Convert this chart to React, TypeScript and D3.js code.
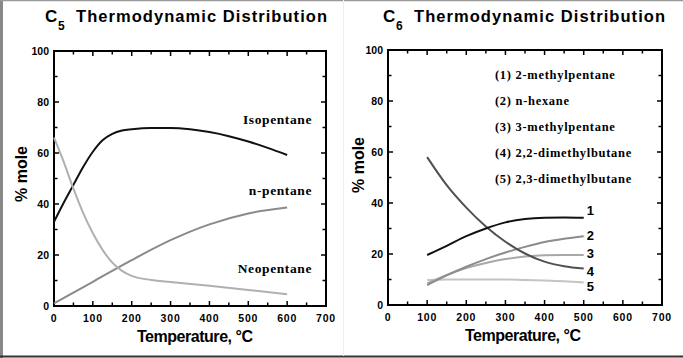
import React from "react";
import * as d3 from "d3";

// ---------- C5 data ----------
const c5Temps = [0, 25, 50, 75, 100, 125, 150, 175, 200, 250, 300, 350, 400, 450, 500, 550, 600];
const isopentane = [33, 40.5, 47.5, 54.5, 60.5, 65, 67.5, 68.8, 69.3, 69.8, 69.8, 69.3, 68.2, 66.6, 64.5, 62, 59.2];
const nPentaneTemps = [0, 100, 200, 300, 400, 500, 600];
const nPentane = [1, 9.5, 18, 25.8, 32, 36.3, 38.6];
const neopentaneTemps = [0, 25, 50, 75, 100, 125, 150, 175, 200, 250, 300, 400, 500, 600];
const neopentane = [66, 56.5, 46, 36.5, 28.5, 22, 17, 13.8, 11.8, 10.2, 9.4, 7.9, 6.3, 4.6];
const c5Labels = ["Isopentane", "n-pentane", "Neopentane"];
const c5LabelValues = [73.3, 45.2, 14.9];

// ---------- C6 data ----------
const c6Temps = [100, 150, 200, 250, 300, 350, 400, 450, 500];
const methylpentane2 = [19.6, 23.2, 27, 30, 32.4, 33.7, 34.2, 34.3, 34.2];
const nHexane = [7.8, 11.6, 15, 18, 20.6, 22.8, 24.7, 26, 27];
const methylpentane3 = [8.5, 11.8, 14.5, 16.5, 18, 19, 19.5, 19.6, 19.6];
const dimethylbutane22 = [58, 47, 38.2, 30.8, 24.8, 20.2, 17, 15.2, 14.3];
const dimethylbutane23 = [9.8, 10, 10, 10, 10, 9.8, 9.6, 9.3, 8.8];
const c6Legend = [
  "(1) 2-methylpentane",
  "(2) n-hexane",
  "(3) 3-methylpentane",
  "(4) 2,2-dimethylbutane",
  "(5) 2,3-dimethylbutane",
];
const c6NumberLabels = ["1", "2", "3", "4", "5"];
const c6NumberValues = [37.3, 27.5, 20.4, 13.3, 7.4];

const xTickLabels = [0, 100, 200, 300, 400, 500, 600, 700];
const yTickLabels = [0, 20, 40, 60, 80, 100];

const SANS = "Arial, 'Liberation Sans', sans-serif";
const SERIF = "'Times New Roman', 'Liberation Serif', serif";

type Panel = { x0: number; x1: number; y0: number; y1: number };

function Axes({ p, sub, titleX, titleStart, yLabelX, yLabelY, xLabelX }: { p: Panel; sub: string; titleX: number; titleStart: number; yLabelX: number; yLabelY: number; xLabelX: number }) {
  const x = d3.scaleLinear().domain([0, 700]).range([p.x0, p.x1]);
  const y = d3.scaleLinear().domain([0, 100]).range([p.y1, p.y0]);
  const xt = d3.range(0, 701, 50);
  const yt = d3.range(0, 101, 10);
  return (
    <g>
      <rect x={p.x0} y={p.y0} width={p.x1 - p.x0} height={p.y1 - p.y0} fill="none" stroke="#000" strokeWidth={2} />
      {xt.map((t) => {
        const L = t % 100 === 0 ? 5 : 3.5;
        return (
          <g key={"x" + t}>
            <line x1={x(t)} x2={x(t)} y1={p.y1} y2={p.y1 - L} stroke="#000" strokeWidth={1.5} />
            <line x1={x(t)} x2={x(t)} y1={p.y0} y2={p.y0 + L} stroke="#000" strokeWidth={1.5} />
          </g>
        );
      })}
      {yt.map((t) => {
        const L = t % 20 === 0 ? 5 : 3.5;
        return (
          <g key={"y" + t}>
            <line x1={p.x0} x2={p.x0 + L} y1={y(t)} y2={y(t)} stroke="#000" strokeWidth={1.5} />
            <line x1={p.x1} x2={p.x1 - L} y1={y(t)} y2={y(t)} stroke="#000" strokeWidth={1.5} />
          </g>
        );
      })}
      {xTickLabels.map((t) => (
        <text key={"xl" + t} x={x(t)} y={p.y1 + 16} textAnchor="middle" fontFamily={SANS} fontWeight="bold" fontSize={10.5} letterSpacing={0.8}>
          {t}
        </text>
      ))}
      {yTickLabels.map((t) => (
        <text key={"yl" + t} x={p.x0 - 5} y={y(t) + 3.8} textAnchor="end" fontFamily={SANS} fontWeight="bold" fontSize={10.5}>
          {t}
        </text>
      ))}
      <text x={xLabelX} y={p.y1 + 36} textAnchor="middle" fontFamily={SANS} fontWeight="bold" fontSize={16} textLength={116} lengthAdjust="spacing">
        Temperature, °C
      </text>
      <text transform={`translate(${yLabelX},${yLabelY}) rotate(-90)`} textAnchor="middle" fontFamily={SANS} fontWeight="bold" fontSize={16}>
        % mole
      </text>
      <text x={titleX} y={22} fontFamily={SANS} fontWeight="bold" fontSize={17}>
        C
      </text>
      <text x={titleX + 13} y={30} fontFamily={SANS} fontWeight="bold" fontSize={12}>
        {sub}
      </text>
      <text x={titleStart} y={22} fontFamily={SANS} fontWeight="bold" fontSize={16.5} textLength={251} lengthAdjust="spacing">
        Thermodynamic Distribution
      </text>
    </g>
  );
}

function path(xs: number[], ys: number[], x: d3.ScaleLinear<number, number>, y: d3.ScaleLinear<number, number>) {
  const gen = d3
    .line<number>()
    .x((_, i) => x(xs[i]))
    .y((d) => y(d))
    .curve(d3.curveMonotoneX);
  return gen(ys) || "";
}

export default function App() {
  const L: Panel = { x0: 54, x1: 326, y0: 51, y1: 306 };
  const R: Panel = { x0: 388, x1: 662, y0: 50, y1: 305 };
  const xL = d3.scaleLinear().domain([0, 700]).range([L.x0, L.x1]);
  const yL = d3.scaleLinear().domain([0, 100]).range([L.y1, L.y0]);
  const xR = d3.scaleLinear().domain([0, 700]).range([R.x0, R.x1]);
  const yR = d3.scaleLinear().domain([0, 100]).range([R.y1, R.y0]);

  const c5Series = [
    { xs: c5Temps, ys: isopentane, color: "#111" },
    { xs: nPentaneTemps, ys: nPentane, color: "#8a8a8a" },
    { xs: neopentaneTemps, ys: neopentane, color: "#b0b0b0" },
  ];
  const c6Series = [
    { ys: methylpentane2, color: "#111" },
    { ys: nHexane, color: "#8c8c8c" },
    { ys: methylpentane3, color: "#a8a8a8" },
    { ys: dimethylbutane22, color: "#505050" },
    { ys: dimethylbutane23, color: "#c4c4c4" },
  ];
  const c6Order = [4, 2, 1, 3, 0];

  return (
    <svg width={683} height={358} style={{ position: "fixed", left: 0, top: 0, background: "#fff" }}>
      <rect x={0} y={0} width={683} height={358} fill="#fff" />
      <line x1={1.5} x2={1.5} y1={0} y2={358} stroke="#888" strokeWidth={3} />
      <line x1={0} x2={683} y1={0.5} y2={0.5} stroke="#999" strokeWidth={1.5} />
      <line x1={0} x2={683} y1={356.5} y2={356.5} stroke="#333" strokeWidth={2} />
      <line x1={343.5} x2={343.5} y1={0} y2={356} stroke="#eee" strokeWidth={1} />

      <Axes p={L} sub="5" titleX={45} titleStart={76} yLabelX={27} yLabelY={174} xLabelX={195} />
      <Axes p={R} sub="6" titleX={383} titleStart={414} yLabelX={364} yLabelY={165} xLabelX={523} />

      {c5Series.map((s, i) => (
        <path key={"c5" + i} d={path(s.xs, s.ys, xL, yL)} fill="none" stroke={s.color} strokeWidth={2} />
      ))}
      {c5Labels.map((t, i) => (
        <text key={t} x={312} y={yL(c5LabelValues[i]) + 4.5} textAnchor="end" fontFamily={SERIF} fontWeight="bold" fontSize={13.5} letterSpacing={0.6}>
          {t}
        </text>
      ))}

      {c6Order.map((i) => (
        <path key={"c6" + i} d={path(c6Temps, c6Series[i].ys, xR, yR)} fill="none" stroke={c6Series[i].color} strokeWidth={2} />
      ))}
      {c6NumberLabels.map((t, i) => (
        <text key={"n" + t} x={xR(517)} y={yR(c6NumberValues[i]) + 5} textAnchor="middle" fontFamily={SANS} fontWeight="bold" fontSize={13}>
          {t}
        </text>
      ))}
      {c6Legend.map((t, i) => (
        <text key={t} x={495} y={79 + i * 26} fontFamily={SERIF} fontWeight="bold" fontSize={12.5} letterSpacing={0.7}>
          {t}
        </text>
      ))}
    </svg>
  );
}
